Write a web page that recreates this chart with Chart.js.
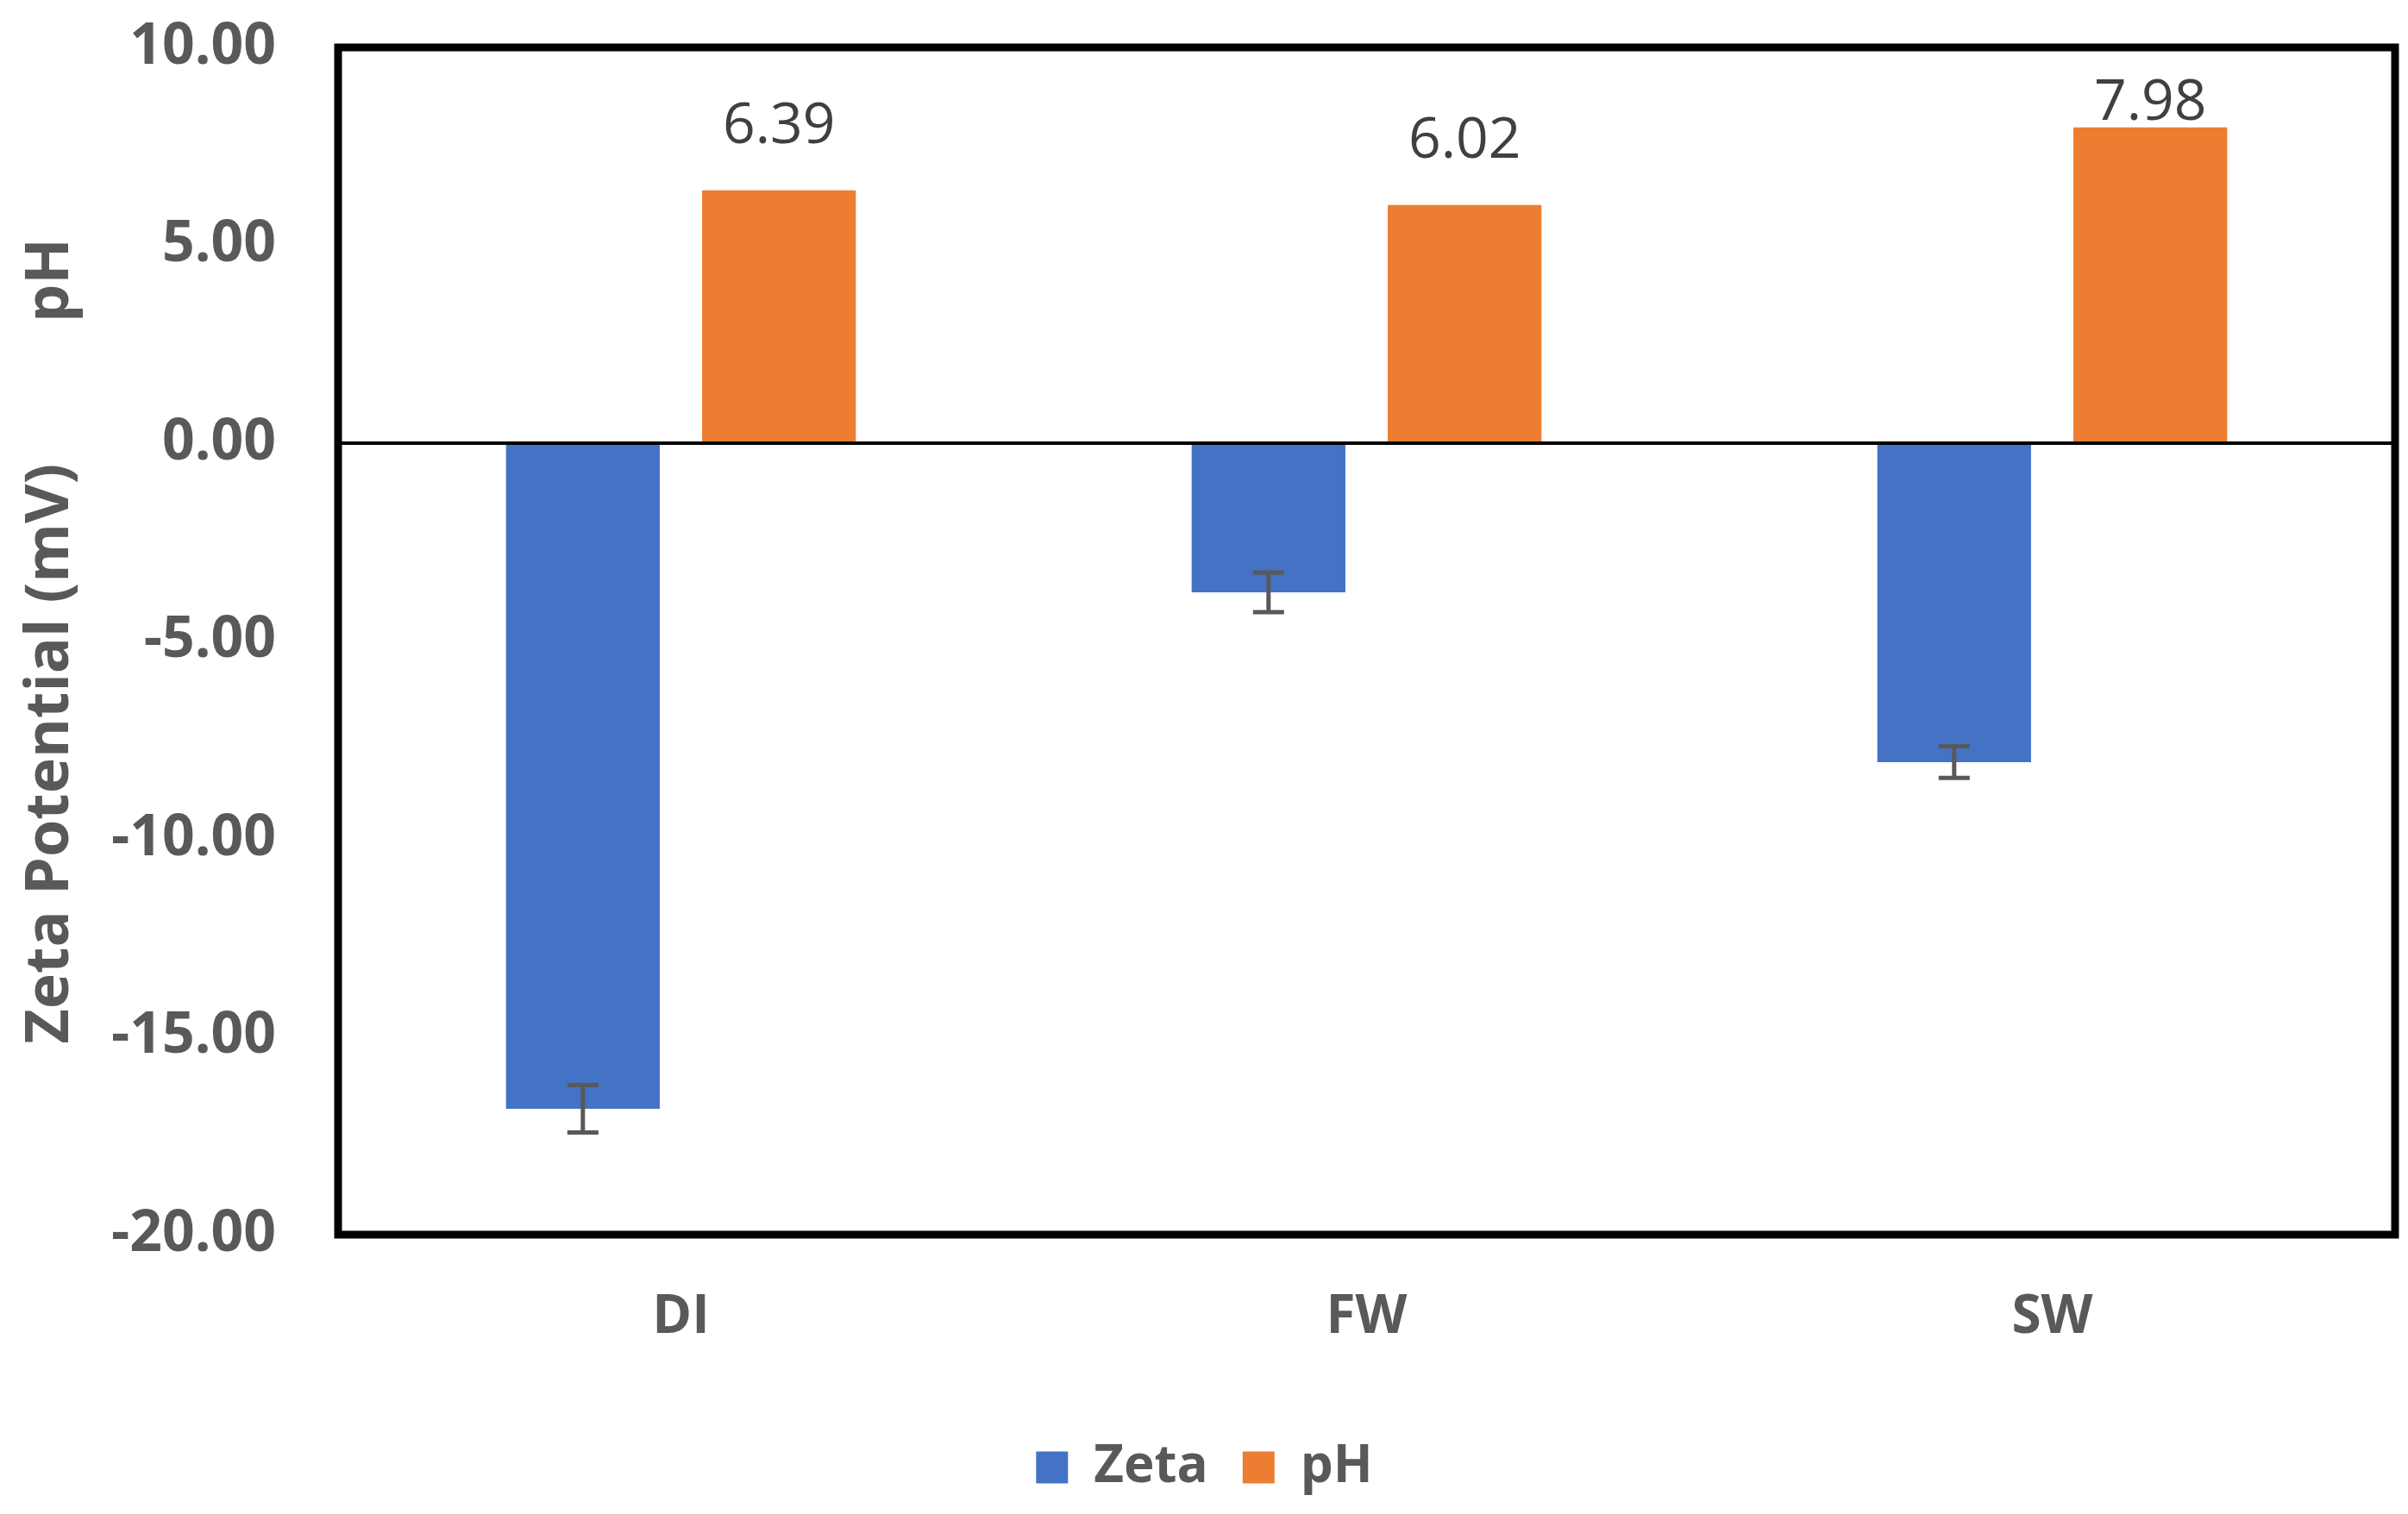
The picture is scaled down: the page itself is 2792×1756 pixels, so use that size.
<!DOCTYPE html>
<html>
<head>
<meta charset="utf-8">
<script src="https://cdn.jsdelivr.net/npm/chart.js@4.4.1/dist/chart.umd.min.js"></script>
<style>
    body { margin: 0; background: #fff; }
    #wrap { width: 2792px; height: 1756px; }
</style>
</head>
<body>
<div id="wrap"><canvas id="chart" width="2792" height="1756"></canvas></div>
<script>
// Zeta potential and pH per water type
const categories = ['DI', 'FW', 'SW'];
const zetaValues = [-16.82, -3.77, -8.06];
const zetaErrors = [0.60, 0.50, 0.40];
const phValues = [6.39, 6.02, 7.98];
const yTicks = [-20, -15, -10, -5, 0, 5, 10];

const grey = '#595959';

// Frame round the plot area plus the zero line
const framePlugin = {
    id: 'frame',
    afterDatasetsDraw(chart) {
        const { ctx, chartArea, scales } = chart;
        const y0 = scales.y.getPixelForValue(0);
        ctx.save();
        ctx.strokeStyle = '#000';
        ctx.lineWidth = 4;
        ctx.beginPath();
        ctx.moveTo(chartArea.left, y0);
        ctx.lineTo(chartArea.right, y0);
        ctx.stroke();
        ctx.lineWidth = 9;
        ctx.strokeRect(chartArea.left, chartArea.top, chartArea.right - chartArea.left, chartArea.bottom - chartArea.top);
        ctx.restore();
    }
};

// Error bars on the zeta series
const errorBarPlugin = {
    id: 'errorBars',
    afterDatasetsDraw(chart) {
        const { ctx, scales } = chart;
        const meta = chart.getDatasetMeta(0);
        ctx.save();
        ctx.strokeStyle = grey;
        ctx.lineWidth = 5;
        meta.data.forEach((bar, i) => {
            const v = zetaValues[i];
            const e = zetaErrors[i];
            const yHi = scales.y.getPixelForValue(v + e);
            const yLo = scales.y.getPixelForValue(v - e);
            const half = 18;
            ctx.beginPath();
            ctx.moveTo(bar.x, yHi);
            ctx.lineTo(bar.x, yLo);
            ctx.moveTo(bar.x - half, yHi);
            ctx.lineTo(bar.x + half, yHi);
            ctx.moveTo(bar.x - half, yLo);
            ctx.lineTo(bar.x + half, yLo);
            ctx.stroke();
        });
        ctx.restore();
    }
};

// Value labels above the pH bars, kept inside the plot area
const valueLabelPlugin = {
    id: 'valueLabels',
    afterDatasetsDraw(chart) {
        const { ctx, chartArea } = chart;
        const meta = chart.getDatasetMeta(1);
        ctx.save();
        ctx.font = '66px "Open Sans"';
        ctx.fillStyle = '#404040';
        ctx.textAlign = 'center';
        ctx.textBaseline = 'alphabetic';
        meta.data.forEach((bar, i) => {
            const y = Math.max(bar.y - 55, chartArea.top + 84);
            ctx.fillText(phValues[i].toFixed(2), bar.x, y);
        });
        ctx.restore();
    }
};

new Chart(document.getElementById('chart'), {
    type: 'bar',
    data: {
        labels: categories,
        datasets: [
            {
                label: 'Zeta',
                data: zetaValues,
                backgroundColor: '#4472C4',
                borderWidth: 0,
                categoryPercentage: 0.572,
                barPercentage: 0.784
            },
            {
                label: 'pH',
                data: phValues,
                backgroundColor: '#ED7D31',
                borderWidth: 0,
                categoryPercentage: 0.572,
                barPercentage: 0.784
            }
        ]
    },
    options: {
        responsive: false,
        devicePixelRatio: 1,
        animation: false,
        layout: { padding: { top: 55, right: 15, bottom: 14, left: 16 } },
        plugins: {
            legend: {
                position: 'bottom',
                labels: {
                    boxWidth: 37,
                    boxHeight: 37,
                    padding: 40,
                    color: grey,
                    font: { family: 'Open Sans', size: 60, weight: 'bold' }
                }
            },
            tooltip: { enabled: false }
        },
        scales: {
            x: {
                grid: { display: false, drawTicks: false },
                border: { display: false },
                ticks: {
                    padding: 59,
                    color: grey,
                    font: { family: 'Open Sans', size: 62, weight: 'bold' }
                },
                afterFit(scale) { scale.height = 200; }
            },
            y: {
                min: yTicks[0],
                max: yTicks[yTicks.length - 1],
                afterBuildTicks(scale) {
                    scale.ticks = yTicks.map(v => ({ value: v }));
                },
                grid: { display: false, drawTicks: false },
                border: { display: false },
                ticks: {
                    padding: 72,
                    color: grey,
                    font: { family: 'Open Sans', size: 66, weight: 'bold' },
                    callback: (value) => Number(value).toFixed(2)
                },
                title: {
                    display: true,
                    text: 'Zeta Potential (mV)         pH',
                    color: grey,
                    font: { family: 'Open Sans', size: 70, weight: 'bold' },
                    padding: { top: 1, bottom: 0 }
                },
                afterFit(scale) {
                    scale.width = 376;
                    // tick padding would otherwise push the plot down
                    scale.paddingTop = 0;
                    scale.paddingBottom = 0;
                }
            }
        }
    },
    plugins: [framePlugin, errorBarPlugin, valueLabelPlugin]
});
</script>
</body>
</html>
